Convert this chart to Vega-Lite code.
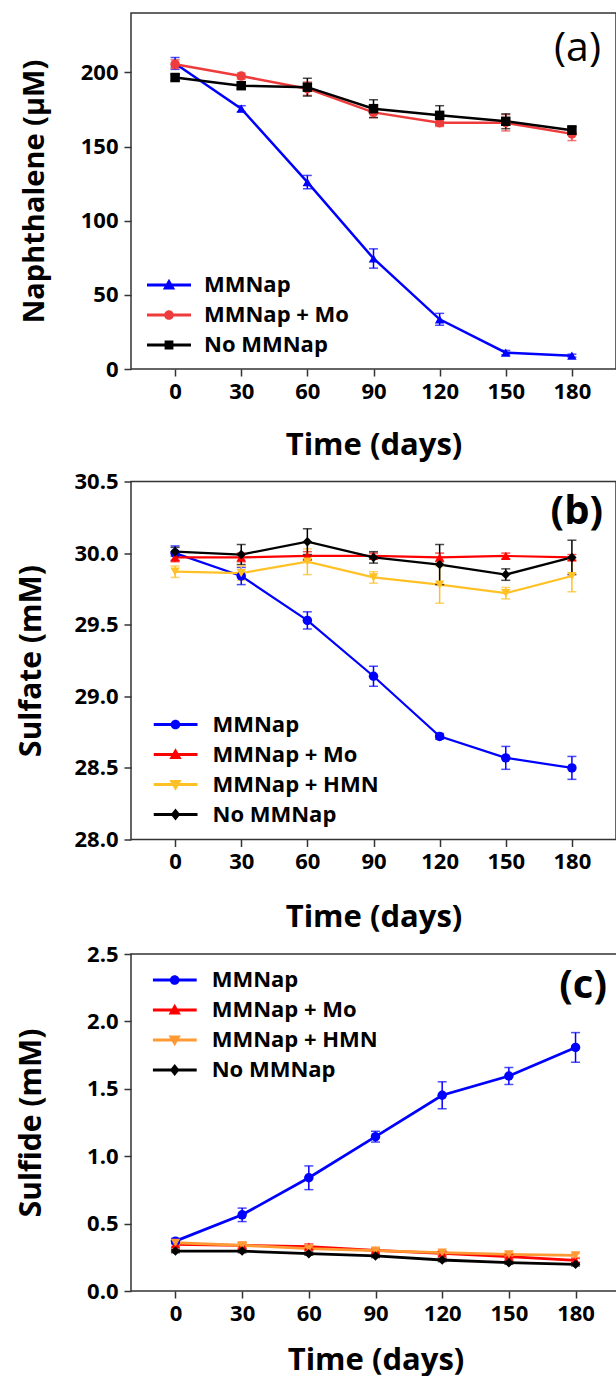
{
  "$schema": "https://vega.github.io/schema/vega-lite/v6.json",
  "padding": {"left": 15, "top": 12, "right": 0, "bottom": 0},
  "spacing": 8.5,
  "background": "white",
  "datasets": {
    "a": [
      {"s": "MMNap", "t": 0, "v": 206, "e": 4},
      {"s": "MMNap", "t": 30, "v": 175.5, "e": 2},
      {"s": "MMNap", "t": 60, "v": 126, "e": 4.5},
      {"s": "MMNap", "t": 90, "v": 74.5, "e": 6.5},
      {"s": "MMNap", "t": 120, "v": 33.5, "e": 4},
      {"s": "MMNap", "t": 150, "v": 11, "e": 1.5},
      {"s": "MMNap", "t": 180, "v": 9, "e": 1},
      {"s": "MMNap + Mo", "t": 0, "v": 205.5, "e": 3},
      {"s": "MMNap + Mo", "t": 30, "v": 197.5, "e": 2},
      {"s": "MMNap + Mo", "t": 60, "v": 189, "e": 4.5},
      {"s": "MMNap + Mo", "t": 90, "v": 173, "e": 3.5},
      {"s": "MMNap + Mo", "t": 120, "v": 166, "e": 2.5},
      {"s": "MMNap + Mo", "t": 150, "v": 166, "e": 5.5},
      {"s": "MMNap + Mo", "t": 180, "v": 158.5, "e": 4.5},
      {"s": "No MMNap", "t": 0, "v": 196.5, "e": 2},
      {"s": "No MMNap", "t": 30, "v": 191, "e": 2},
      {"s": "No MMNap", "t": 60, "v": 190, "e": 6},
      {"s": "No MMNap", "t": 90, "v": 175.5, "e": 6},
      {"s": "No MMNap", "t": 120, "v": 171, "e": 6.5},
      {"s": "No MMNap", "t": 150, "v": 167, "e": 5},
      {"s": "No MMNap", "t": 180, "v": 161, "e": 3}
    ],
    "b": [
      {"s": "MMNap", "t": 0, "v": 30.0, "e": 0.05},
      {"s": "MMNap", "t": 30, "v": 29.84, "e": 0.06},
      {"s": "MMNap", "t": 60, "v": 29.53, "e": 0.06},
      {"s": "MMNap", "t": 90, "v": 29.14, "e": 0.07},
      {"s": "MMNap", "t": 120, "v": 28.72, "e": 0.02},
      {"s": "MMNap", "t": 150, "v": 28.57, "e": 0.08},
      {"s": "MMNap", "t": 180, "v": 28.5, "e": 0.08},
      {"s": "MMNap + Mo", "t": 0, "v": 29.97, "e": 0.03},
      {"s": "MMNap + Mo", "t": 30, "v": 29.97, "e": 0.03},
      {"s": "MMNap + Mo", "t": 60, "v": 29.98, "e": 0.03},
      {"s": "MMNap + Mo", "t": 90, "v": 29.98, "e": 0.02},
      {"s": "MMNap + Mo", "t": 120, "v": 29.97, "e": 0.03},
      {"s": "MMNap + Mo", "t": 150, "v": 29.98, "e": 0.02},
      {"s": "MMNap + Mo", "t": 180, "v": 29.97, "e": 0.02},
      {"s": "MMNap + HMN", "t": 0, "v": 29.87, "e": 0.04},
      {"s": "MMNap + HMN", "t": 30, "v": 29.86, "e": 0.05},
      {"s": "MMNap + HMN", "t": 60, "v": 29.94, "e": 0.09},
      {"s": "MMNap + HMN", "t": 90, "v": 29.83, "e": 0.04},
      {"s": "MMNap + HMN", "t": 120, "v": 29.78, "e": 0.13},
      {"s": "MMNap + HMN", "t": 150, "v": 29.72, "e": 0.04},
      {"s": "MMNap + HMN", "t": 180, "v": 29.84, "e": 0.11},
      {"s": "No MMNap", "t": 0, "v": 30.01, "e": 0.03},
      {"s": "No MMNap", "t": 30, "v": 29.99, "e": 0.07},
      {"s": "No MMNap", "t": 60, "v": 30.08, "e": 0.09},
      {"s": "No MMNap", "t": 90, "v": 29.97, "e": 0.04},
      {"s": "No MMNap", "t": 120, "v": 29.92, "e": 0.14},
      {"s": "No MMNap", "t": 150, "v": 29.85, "e": 0.04},
      {"s": "No MMNap", "t": 180, "v": 29.97, "e": 0.12}
    ],
    "c": [
      {"s": "MMNap", "t": 0, "v": 0.37, "e": 0.02},
      {"s": "MMNap", "t": 30, "v": 0.565, "e": 0.05},
      {"s": "MMNap", "t": 60, "v": 0.84, "e": 0.088},
      {"s": "MMNap", "t": 90, "v": 1.145, "e": 0.04},
      {"s": "MMNap", "t": 120, "v": 1.452, "e": 0.1},
      {"s": "MMNap", "t": 150, "v": 1.595, "e": 0.063},
      {"s": "MMNap", "t": 180, "v": 1.807, "e": 0.11},
      {"s": "MMNap + Mo", "t": 0, "v": 0.346, "e": 0.02},
      {"s": "MMNap + Mo", "t": 30, "v": 0.339, "e": 0.02},
      {"s": "MMNap + Mo", "t": 60, "v": 0.329, "e": 0.02},
      {"s": "MMNap + Mo", "t": 90, "v": 0.301, "e": 0.015},
      {"s": "MMNap + Mo", "t": 120, "v": 0.279, "e": 0.015},
      {"s": "MMNap + Mo", "t": 150, "v": 0.255, "e": 0.015},
      {"s": "MMNap + Mo", "t": 180, "v": 0.227, "e": 0.015},
      {"s": "MMNap + HMN", "t": 0, "v": 0.358, "e": 0.015},
      {"s": "MMNap + HMN", "t": 30, "v": 0.339, "e": 0.015},
      {"s": "MMNap + HMN", "t": 60, "v": 0.314, "e": 0.015},
      {"s": "MMNap + HMN", "t": 90, "v": 0.3, "e": 0.015},
      {"s": "MMNap + HMN", "t": 120, "v": 0.284, "e": 0.015},
      {"s": "MMNap + HMN", "t": 150, "v": 0.272, "e": 0.015},
      {"s": "MMNap + HMN", "t": 180, "v": 0.264, "e": 0.015},
      {"s": "No MMNap", "t": 0, "v": 0.296, "e": 0.012},
      {"s": "No MMNap", "t": 30, "v": 0.296, "e": 0.012},
      {"s": "No MMNap", "t": 60, "v": 0.277, "e": 0.012},
      {"s": "No MMNap", "t": 90, "v": 0.26, "e": 0.012},
      {"s": "No MMNap", "t": 120, "v": 0.23, "e": 0.012},
      {"s": "No MMNap", "t": 150, "v": 0.21, "e": 0.012},
      {"s": "No MMNap", "t": 180, "v": 0.198, "e": 0.012}
    ]
  },
  "vconcat": [
    {
      "width": 485,
      "height": 356,
      "data": {"name": "a"},
      "title": {"text": "(a)", "anchor": "end", "orient": "top", "offset": -57, "dx": -15, "fontSize": 41, "font": "Open Sans", "fontWeight": "normal", "color": "black"},
      "encoding": {
        "x": {"field": "t", "type": "quantitative", "title": "Time (days)",
          "scale": {"domain": [-20, 200], "nice": false, "zero": false},
          "axis": {"values": [0, 30, 60, 90, 120, 150, 180], "titleFontSize": 31, "titlePadding": 28}},
        "y": {"field": "v", "type": "quantitative", "title": "Naphthalene (μM)",
          "scale": {"domain": [0, 240], "nice": false},
          "axis": {"values": [0, 50, 100, 150, 200], "titleFontSize": 29, "titlePadding": 31}}
      },
      "layer": [
        {"mark": {"type": "line", "strokeWidth": 2.5},
          "encoding": {"detail": {"field": "s"},
            "color": {"condition": [{"test": "datum.s === 'MMNap'", "value": "#0000ff"}, {"test": "datum.s === 'MMNap + Mo'", "value": "#ee3b3b"}], "value": "#000000"}}},
        {"mark": {"type": "errorbar", "ticks": true, "size": 9, "thickness": 1.5},
          "encoding": {"yError": {"field": "e"},
            "color": {"condition": [{"test": "datum.s === 'MMNap'", "value": "#0000ff"}, {"test": "datum.s === 'MMNap + Mo'", "value": "#ee3b3b"}], "value": "#000000"}}},
        {"mark": {"type": "point", "filled": true, "size": 90, "opacity": 1},
          "encoding": {
            "color": {"condition": [{"test": "datum.s === 'MMNap'", "value": "#0000ff"}, {"test": "datum.s === 'MMNap + Mo'", "value": "#ee3b3b"}], "value": "#000000"},
            "shape": {"condition": [{"test": "datum.s === 'MMNap'", "value": "triangle-up"}, {"test": "datum.s === 'MMNap + Mo'", "value": "circle"}], "value": "square"}
          }},
        {"mark": {"type": "point", "filled": true, "opacity": 0},
          "encoding": {
            "color": {"field": "s", "type": "nominal", "scale": {"domain": ["MMNap", "MMNap + Mo", "No MMNap"], "range": ["#0000ff", "#ee3b3b", "#000000"]},
              "legend": {"orient": "none", "legendX": 16, "legendY": 261, "title": null, "labelFont": "Open Sans", "labelFontSize": 22, "labelFontWeight": "bold", "labelColor": "black", "labelLimit": 400, "symbolSize": 1936, "symbolOpacity": 1, "clipHeight": 22, "rowPadding": 8, "labelOffset": 13, "symbolStrokeWidth": 0, "padding": 0}},
            "shape": {"field": "s", "type": "nominal", "scale": {"domain": ["MMNap", "MMNap + Mo", "No MMNap"], "range": ["M-1,-0.065H1V0.065H-1ZM0,-0.28L0.28,0.2L-0.28,0.2Z", "M-1,-0.065H1V0.065H-1ZM-0.22,0A0.22,0.22,0,1,1,0.22,0A0.22,0.22,0,1,1,-0.22,0Z", "M-1,-0.065H1V0.065H-1ZM-0.2,-0.2H0.2V0.2H-0.2Z"]},
              "legend": {"orient": "none", "legendX": 16, "legendY": 261, "title": null, "labelFont": "Open Sans", "labelFontSize": 22, "labelFontWeight": "bold", "labelColor": "black", "labelLimit": 400, "symbolSize": 1936, "symbolOpacity": 1, "clipHeight": 22, "rowPadding": 8, "labelOffset": 13, "symbolStrokeWidth": 0, "padding": 0}}
          }}
      ]
    },
    {
      "width": 485,
      "height": 358,
      "data": {"name": "b"},
      "title": {"text": "(b)", "anchor": "end", "orient": "top", "offset": -61, "dx": -13, "fontSize": 40, "font": "Open Sans", "fontWeight": "bold", "color": "black"},
      "encoding": {
        "x": {"field": "t", "type": "quantitative", "title": "Time (days)",
          "scale": {"domain": [-20, 200], "nice": false, "zero": false},
          "axis": {"values": [0, 30, 60, 90, 120, 150, 180], "titleFontSize": 31, "titlePadding": 30}},
        "y": {"field": "v", "type": "quantitative", "title": "Sulfate (mM)",
          "scale": {"domain": [28, 30.5], "nice": false, "zero": false},
          "axis": {"values": [28, 28.5, 29, 29.5, 30, 30.5], "format": ".1f", "titleFontSize": 30, "titlePadding": 27.6}}
      },
      "layer": [
        {"mark": {"type": "line", "strokeWidth": 2.2},
          "encoding": {"detail": {"field": "s"},
            "color": {"condition": [{"test": "datum.s === 'MMNap'", "value": "#0000ff"}, {"test": "datum.s === 'MMNap + Mo'", "value": "#ff0000"}, {"test": "datum.s === 'MMNap + HMN'", "value": "#ffc125"}], "value": "#000000"}}},
        {"mark": {"type": "errorbar", "ticks": true, "size": 9, "thickness": 1.5},
          "encoding": {"yError": {"field": "e"},
            "color": {"condition": [{"test": "datum.s === 'MMNap'", "value": "#0000ff"}, {"test": "datum.s === 'MMNap + Mo'", "value": "#ff0000"}, {"test": "datum.s === 'MMNap + HMN'", "value": "#ffc125"}], "value": "#000000"}}},
        {"mark": {"type": "point", "filled": true, "size": 90, "opacity": 1},
          "encoding": {
            "color": {"condition": [{"test": "datum.s === 'MMNap'", "value": "#0000ff"}, {"test": "datum.s === 'MMNap + Mo'", "value": "#ff0000"}, {"test": "datum.s === 'MMNap + HMN'", "value": "#ffc125"}], "value": "#000000"},
            "shape": {"condition": [{"test": "datum.s === 'MMNap'", "value": "circle"}, {"test": "datum.s === 'MMNap + Mo'", "value": "triangle-up"}, {"test": "datum.s === 'MMNap + HMN'", "value": "triangle-down"}], "value": "diamond"}
          }},
        {"mark": {"type": "point", "filled": true, "opacity": 0},
          "encoding": {
            "color": {"field": "s", "type": "nominal", "scale": {"domain": ["MMNap", "MMNap + Mo", "MMNap + HMN", "No MMNap"], "range": ["#0000ff", "#ff0000", "#ffc125", "#000000"]},
              "legend": {"orient": "none", "legendX": 22.5, "legendY": 232, "title": null, "labelFont": "Open Sans", "labelFontSize": 22, "labelFontWeight": "bold", "labelColor": "black", "labelLimit": 400, "symbolSize": 1936, "symbolOpacity": 1, "clipHeight": 22, "rowPadding": 8, "labelOffset": 15, "symbolStrokeWidth": 0, "padding": 0}},
            "shape": {"field": "s", "type": "nominal", "scale": {"domain": ["MMNap", "MMNap + Mo", "MMNap + HMN", "No MMNap"], "range": ["M-1,-0.065H1V0.065H-1ZM-0.22,0A0.22,0.22,0,1,1,0.22,0A0.22,0.22,0,1,1,-0.22,0Z", "M-1,-0.065H1V0.065H-1ZM0,-0.28L0.28,0.2L-0.28,0.2Z", "M-1,-0.065H1V0.065H-1ZM0,0.28L-0.28,-0.2L0.28,-0.2Z", "M-1,-0.065H1V0.065H-1ZM0,-0.27L0.22,0L0,0.27L-0.22,0Z"]},
              "legend": {"orient": "none", "legendX": 22.5, "legendY": 232, "title": null, "labelFont": "Open Sans", "labelFontSize": 22, "labelFontWeight": "bold", "labelColor": "black", "labelLimit": 400, "symbolSize": 1936, "symbolOpacity": 1, "clipHeight": 22, "rowPadding": 8, "labelOffset": 15, "symbolStrokeWidth": 0, "padding": 0}}
          }}
      ]
    },
    {
      "width": 489,
      "height": 337,
      "data": {"name": "c"},
      "title": {"text": "(c)", "anchor": "end", "orient": "top", "offset": -63, "dx": -13, "fontSize": 40, "font": "Open Sans", "fontWeight": "bold", "color": "black"},
      "encoding": {
        "x": {"field": "t", "type": "quantitative", "title": "Time (days)",
          "scale": {"domain": [-20, 200], "nice": false, "zero": false},
          "axis": {"values": [0, 30, 60, 90, 120, 150, 180], "titleFontSize": 31, "titlePadding": 21}},
        "y": {"field": "v", "type": "quantitative", "title": "Sulfide (mM)",
          "scale": {"domain": [0, 2.5], "nice": false},
          "axis": {"values": [0, 0.5, 1, 1.5, 2, 2.5], "format": ".1f", "titleFontSize": 30, "titlePadding": 40}}
      },
      "layer": [
        {"mark": {"type": "line", "strokeWidth": 2.8},
          "encoding": {"detail": {"field": "s"},
            "color": {"condition": [{"test": "datum.s === 'MMNap'", "value": "#0000ff"}, {"test": "datum.s === 'MMNap + Mo'", "value": "#ff0000"}, {"test": "datum.s === 'MMNap + HMN'", "value": "#ff9933"}], "value": "#000000"}}},
        {"mark": {"type": "errorbar", "ticks": true, "size": 9, "thickness": 1.5},
          "encoding": {"yError": {"field": "e"},
            "color": {"condition": [{"test": "datum.s === 'MMNap'", "value": "#0000ff"}, {"test": "datum.s === 'MMNap + Mo'", "value": "#ff0000"}, {"test": "datum.s === 'MMNap + HMN'", "value": "#ff9933"}], "value": "#000000"}}},
        {"mark": {"type": "point", "filled": true, "size": 90, "opacity": 1},
          "encoding": {
            "color": {"condition": [{"test": "datum.s === 'MMNap'", "value": "#0000ff"}, {"test": "datum.s === 'MMNap + Mo'", "value": "#ff0000"}, {"test": "datum.s === 'MMNap + HMN'", "value": "#ff9933"}], "value": "#000000"},
            "shape": {"condition": [{"test": "datum.s === 'MMNap'", "value": "circle"}, {"test": "datum.s === 'MMNap + Mo'", "value": "triangle-up"}, {"test": "datum.s === 'MMNap + HMN'", "value": "triangle-down"}], "value": "diamond"}
          }},
        {"mark": {"type": "point", "filled": true, "opacity": 0},
          "encoding": {
            "color": {"field": "s", "type": "nominal", "scale": {"domain": ["MMNap", "MMNap + Mo", "MMNap + HMN", "No MMNap"], "range": ["#0000ff", "#ff0000", "#ff9933", "#000000"]},
              "legend": {"orient": "none", "legendX": 21.7, "legendY": 15, "title": null, "labelFont": "Open Sans", "labelFontSize": 22, "labelFontWeight": "bold", "labelColor": "black", "labelLimit": 400, "symbolSize": 1936, "symbolOpacity": 1, "clipHeight": 22, "rowPadding": 8, "labelOffset": 15, "symbolStrokeWidth": 0, "padding": 0}},
            "shape": {"field": "s", "type": "nominal", "scale": {"domain": ["MMNap", "MMNap + Mo", "MMNap + HMN", "No MMNap"], "range": ["M-1,-0.065H1V0.065H-1ZM-0.22,0A0.22,0.22,0,1,1,0.22,0A0.22,0.22,0,1,1,-0.22,0Z", "M-1,-0.065H1V0.065H-1ZM0,-0.28L0.28,0.2L-0.28,0.2Z", "M-1,-0.065H1V0.065H-1ZM0,0.28L-0.28,-0.2L0.28,-0.2Z", "M-1,-0.065H1V0.065H-1ZM0,-0.27L0.22,0L0,0.27L-0.22,0Z"]},
              "legend": {"orient": "none", "legendX": 21.7, "legendY": 15, "title": null, "labelFont": "Open Sans", "labelFontSize": 22, "labelFontWeight": "bold", "labelColor": "black", "labelLimit": 400, "symbolSize": 1936, "symbolOpacity": 1, "clipHeight": 22, "rowPadding": 8, "labelOffset": 15, "symbolStrokeWidth": 0, "padding": 0}}
          }}
      ]
    }
  ],
  "resolve": {
    "scale": {"x": "independent", "y": "independent", "color": "independent", "shape": "independent"},
    "legend": {"color": "independent", "shape": "independent"}
  },
  "config": {
    "font": "Open Sans",
    "view": {"stroke": "#333333", "strokeWidth": 1.5},
    "axis": {
      "grid": false,
      "domain": false,
      "labelFont": "Open Sans",
      "labelFontWeight": "bold",
      "labelFontSize": 22,
      "labelColor": "#000000",
      "titleFont": "Open Sans",
      "titleFontWeight": "bold",
      "titleColor": "#000000",
      "tickColor": "#333333",
      "tickWidth": 1.5,
      "tickSize": 7
    },
    "axisX": {"labelPadding": 5},
    "axisY": {"labelPadding": 6}
  }
}
